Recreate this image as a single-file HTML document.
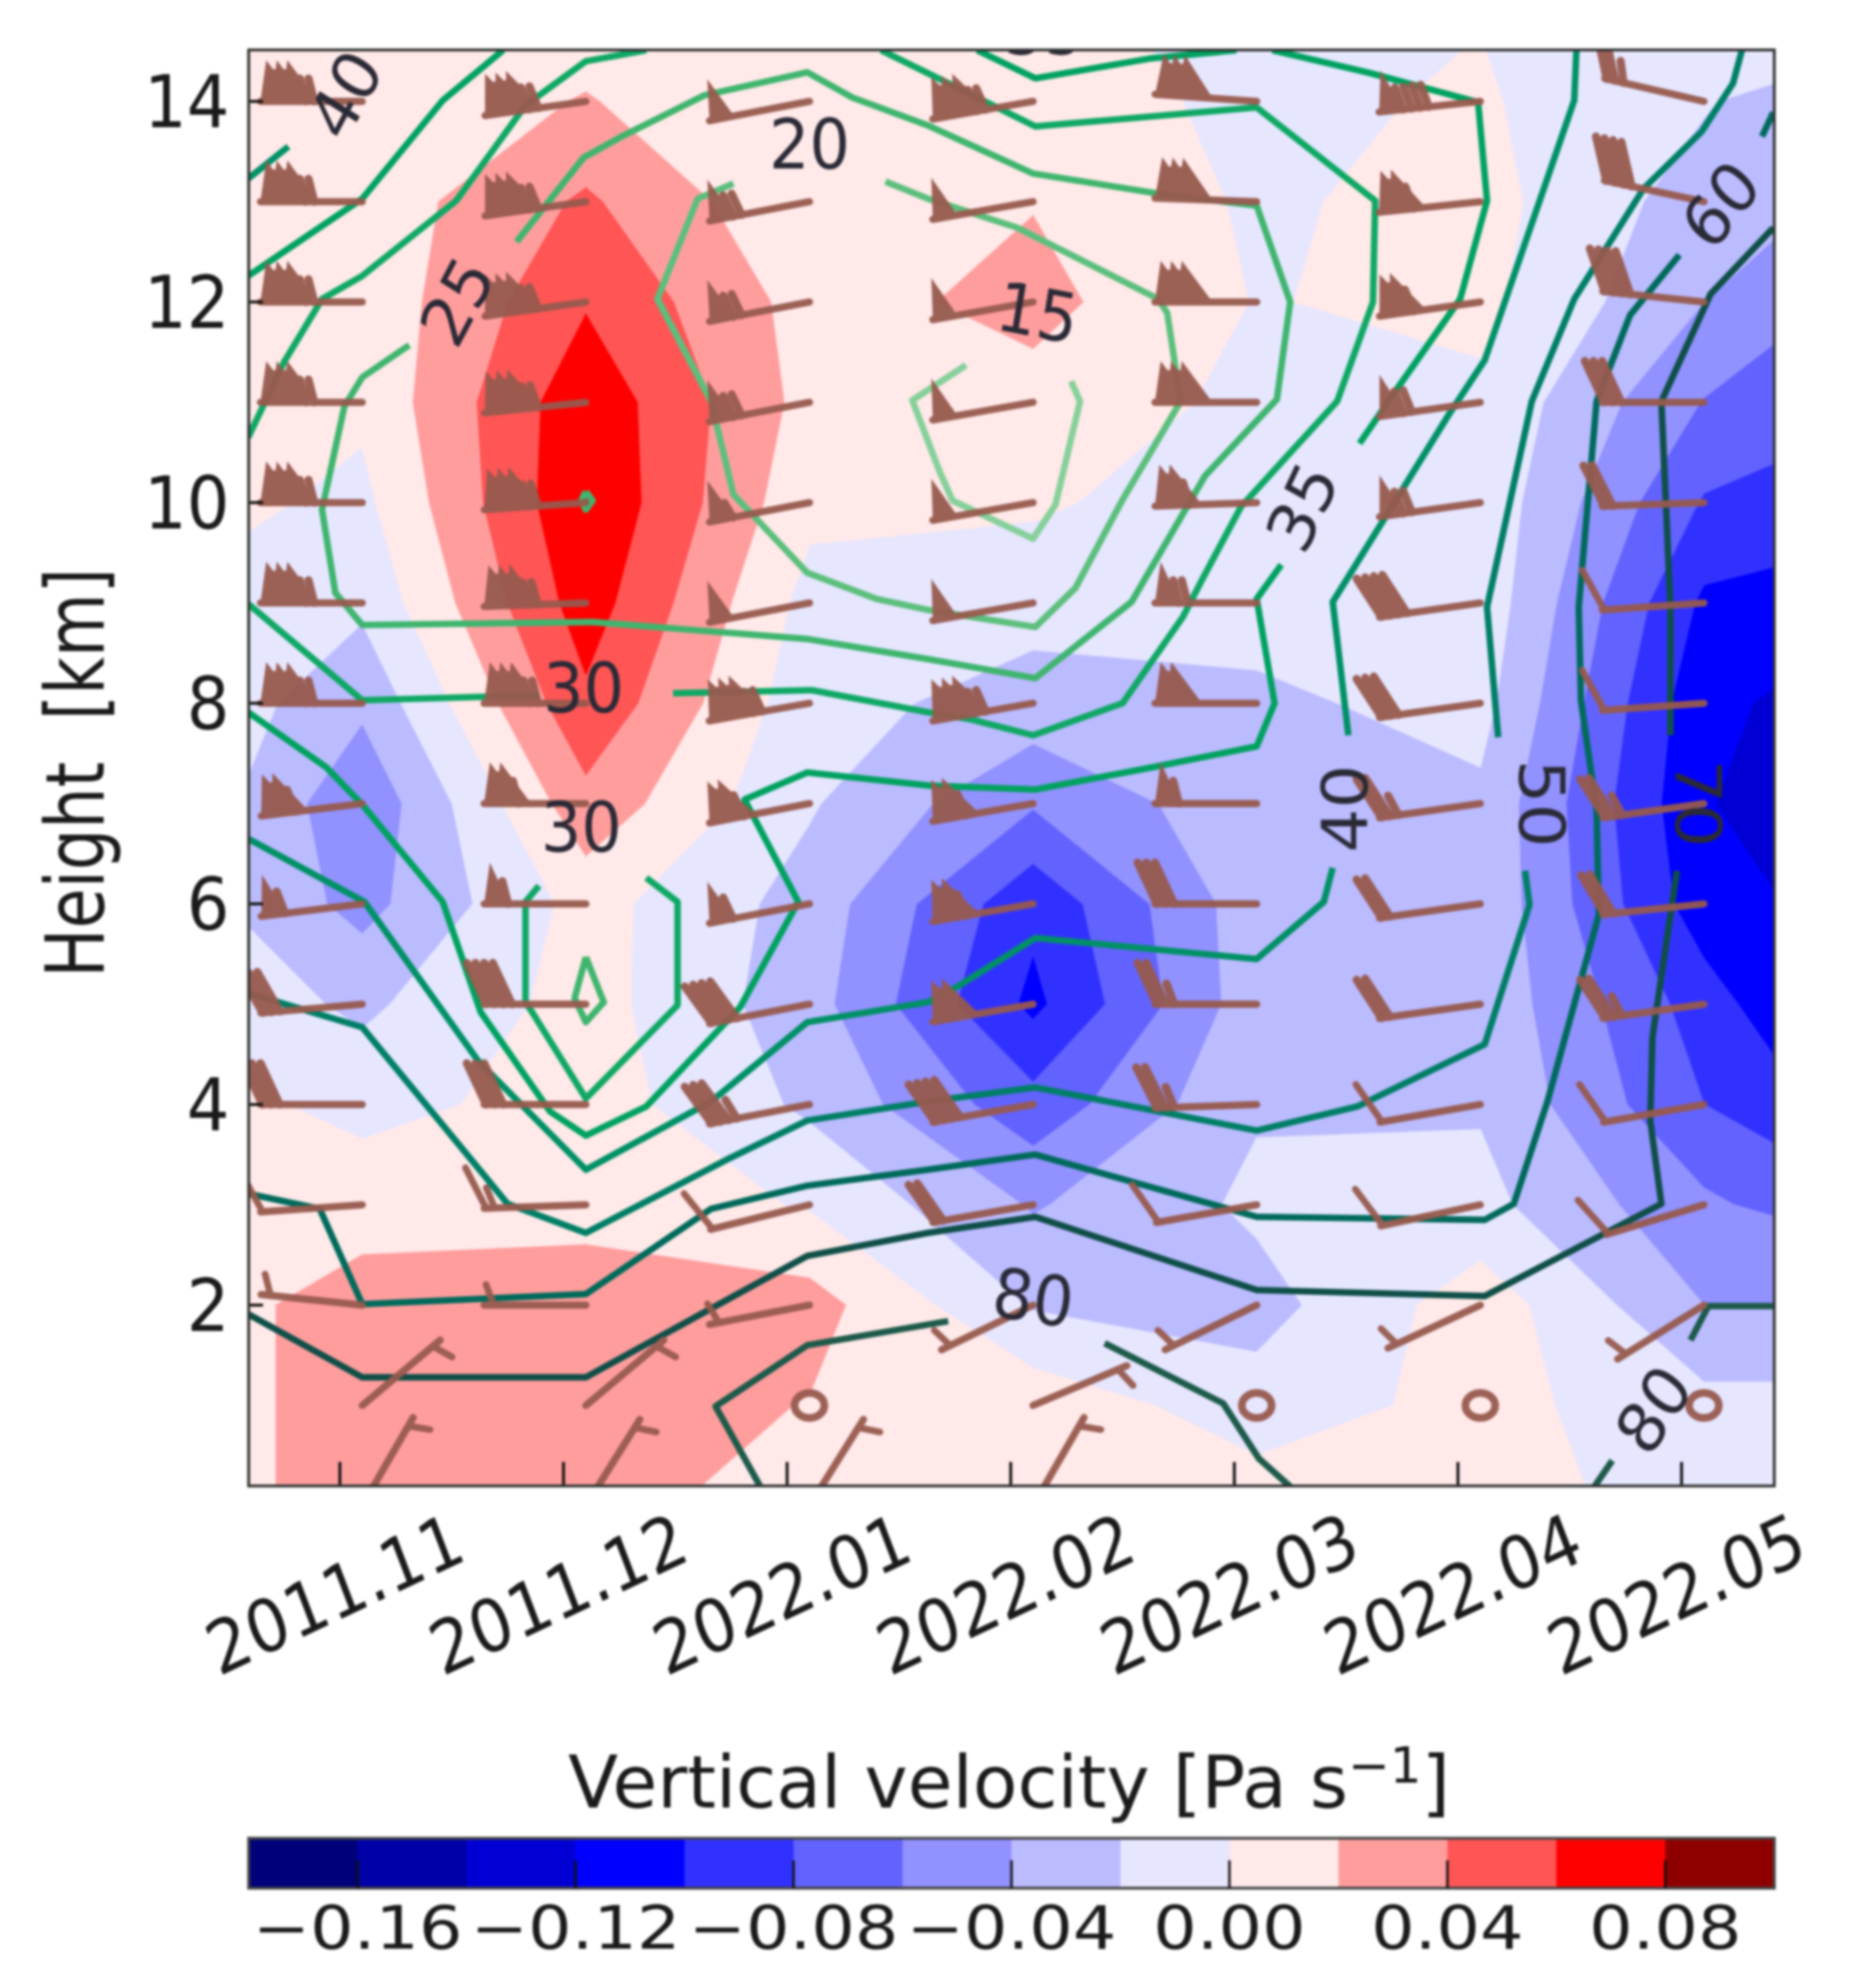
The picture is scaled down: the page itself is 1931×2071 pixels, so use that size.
<!DOCTYPE html>
<html lang="en">
<head>
<meta charset="utf-8">
<title>Vertical velocity time-height section</title>
<style>
html,body{margin:0;padding:0;background:#fff;}
#chart{display:block;width:1931px;height:2071px;filter:blur(1.2px);font-family:"DejaVu Sans","Liberation Sans",sans-serif;}
</style>
</head>
<body>
<svg id="chart" xmlns="http://www.w3.org/2000/svg" width="1931" height="2071" viewBox="0 0 1931 2071">
  <defs>
    <clipPath id="plot-clip"><rect x="259" y="52" width="1589" height="1496"></rect></clipPath>
  </defs>
  <rect x="0" y="0" width="1931" height="2071" fill="#ffffff"></rect>
  <g id="fills" clip-path="url(#plot-clip)"></g>
  <g id="lines" clip-path="url(#plot-clip)"></g>
  <g id="barbs" clip-path="url(#plot-clip)"></g>
  <g id="labels" clip-path="url(#plot-clip)"></g>
  <g id="xticks"></g>
  <g id="yticks"></g>
  <rect x="259" y="52" width="1589" height="1496" fill="none" stroke="#333" stroke-width="3"></rect>
  <text transform="translate(108,805) scale(1.25,1) rotate(-90)" text-anchor="middle" font-size="68" fill="#1a1a1a" xml:space="preserve">Height  [km]</text>
  <text x="1051" y="1883" text-anchor="middle" font-size="76" fill="#1a1a1a">Vertical velocity [Pa s<tspan dy="-26" font-size="52">−1</tspan><tspan dy="26">]</tspan></text>
  <g id="colorbar"></g>
</svg>
<script>
// ---------- Data: vertical velocity field (Pa/s) ----------
const gridMonths = [-0.9, 0.1, 1.1, 2.1, 3.1, 4.1, 5.1, 6.1, 7.1];
const gridHeights = [15, 14, 13, 12, 11, 10, 9, 8, 7, 6, 5, 4, 3, 2, 1, 0];
const velocityField = [
  [.004,.008,.01,.002,.002,-.003,-.001,-.012,-.005],
  [.004,.008,.021,.004,.008,-.004,.002,-.018,-.051],
  [.004,.008,.043,.002,.019,-.003,.007,-.03,-.05],
  [.004,.006,.058,.012,.026,-.001,.005,-.04,-.076],
  [.004,.004,.074,.013,.013,-.005,-.004,-.061,-.081],
  [.011,-.005,.078,.005,.003,-.012,-.006,-.082,-.092],
  [0,-.016,.07,-.007,-.013,-.012,-.007,-.104,-.124],
  [.006,-.036,.056,-.013,-.028,-.024,-.013,-.115,-.138],
  [.008,-.056,.0335,-.018,-.058,-.026,-.024,-.118,-.157],
  [-.003,-.047,.0075,-.028,-.095,-.028,-.024,-.112,-.135],
  [0,-.024,.008,-.032,-.105,-.028,-.025,-.09,-.156],
  [.016,-.008,.01,-.024,-.073,-.022,-.022,-.08,-.123],
  [.01,.015,.015,-.002,-.042,-.016,-.014,-.056,-.086],
  [.012,.025,.0275,.028,-.022,-.028,.011,-.04,-.04],
  [.004,.03,.032,.019,.013,-.011,.007,-.014,-.014],
  [.004,.03,.032,.003,.012,.011,.005,-.005,-.005]
];
const bandLevels = [-.18,-.16,-.14,-.12,-.10,-.08,-.06,-.04,-.02,0,.02,.04,.06,.08,.10];
const bandColors = ["#00007a","#0000a8","#0000d4","#0000ff","#3131ff","#6262ff","#9191ff","#bbbbff","#e6e6ff","#ffe9e9","#ff9d9d","#ff5555","#ff0000","#8e0000"];

// ---------- Data: contour lines as [month, km] vertices ----------
const contour15 = [[[2.80,11.37],[2.56,11.02],[2.68,10.32],[2.74,10.02],[3.10,9.64],[3.20,9.98],[3.31,11.01],[3.27,11.21]]];
const contour20 = [[[1.76,13.18],[1.60,13.03],[1.42,12.03],[1.66,11.01],[1.76,10.08],[2.09,9.30],[2.40,9.04],[2.63,8.93],[3.11,8.76],[3.29,9.15],[3.50,10.03],[3.76,11.01],[3.70,11.89],[3.66,12.03],[3.03,12.74],[2.63,13.03],[2.44,13.2]]];
const contour25 = [
  [[.79,12.6],[1.09,13.44],[1.26,13.65],[1.63,14.06],[2.09,14.29],[2.29,14.04],[2.63,13.76],[3.10,13.28],[3.66,13.08],[4.10,12.96],[4.25,12.0],[4.19,11.03],[3.87,10.27],[3.54,9.01],[3.11,8.25],[2.63,8.44],[2.09,8.64],[1.13,8.81],[.10,8.78],[-.02,9.1],[-.08,9.93],[.02,10.96],[.10,11.25],[.31,11.57]],
  [[1.10,10.11],[1.13,10.02],[1.10,9.93],[1.08,10.02],[1.10,10.11]],
  [[1.10,5.47],[1.18,5.02],[1.10,4.82],[1.05,5.06],[1.10,5.47]]
];
const contour30 = [
  [[-.41,10.65],[-.25,11.40],[-.08,12.03],[.10,12.26],[.52,13.01],[.83,13.96],[1.10,14.40],[1.37,14.51]],
  [[2.42,14.51],[2.63,14.28],[3.11,13.75],[4.10,13.94],[4.63,13.01],[4.62,12.0],[4.46,11.01],[4.03,9.96],[3.86,9.25],[3.77,8.86],[3.50,8.0],[3.10,7.68],[2.82,7.84],[2.63,7.91],[2.11,8.13],[1.49,8.10]],
  [[-.41,8.99],[.10,8.03],[.89,8.08]],
  [[.89,6.18],[.83,6.02],[.83,5.02],[.86,4.92],[1.10,4.06],[1.51,4.99],[1.51,6.02],[1.37,6.26]]
];
const contour35 = [
  [[-.41,12.26],[.10,13.03],[.46,14.01],[.73,14.51]],
  [[2.85,14.51],[3.11,14.23],[3.63,14.43],[4.01,14.51]],
  [[4.17,14.51],[4.61,14.28],[5.09,13.99],[5.13,13.01],[5.01,12.03],[4.72,11.11],[4.56,10.59]],
  [[-.41,7.91],[-.06,7.36],[.10,6.99],[.46,6.02],[.63,4.92],[.94,3.93],[1.10,3.69],[1.37,3.98],[1.79,4.97],[2.05,6.02],[1.81,7.04],[2.09,7.31],[2.63,7.18],[3.11,7.14],[3.63,7.36],[4.10,7.57],[4.18,8.0],[4.10,9.04],[4.21,9.38]]
];
const contour40 = [
  [[-.41,13.23],[-.23,13.55]],
  [[5.53,14.51],[5.52,14.01],[5.12,11.42],[4.96,10.88],[4.44,9.01],[4.51,7.68]],
  [[-.41,6.65],[.11,6.02],[.62,4.43],[1.10,3.35],[1.66,4.03],[2.09,4.82],[2.63,5.02],[2.75,5.16],[3.11,5.66],[4.10,5.45],[4.40,6.02],[4.44,6.36]]
];
const contour50 = [
  [[6.27,14.51],[6.23,14.18],[6.09,13.7],[5.83,13.13],[5.52,12.03],[5.33,11.01],[5.13,8.96],[5.18,7.66]],
  [[5.30,6.33],[5.32,5.99],[5.12,4.60],[4.55,3.98],[4.10,3.74],[3.11,4.17],[2.63,4.03],[2.09,3.84],[1.73,3.45],[1.10,2.72],[.75,3.01],[.10,4.77],[-.41,5.11]]
];
const contour60 = [
  [[6.41,13.89],[6.36,13.65]],
  [[5.99,12.47],[5.77,11.87],[5.62,11.01],[5.54,8.96],[5.55,8.03],[5.62,6.93],[5.63,5.89],[5.40,4.03],[5.25,3.01],[5.12,2.85],[4.10,2.88],[3.11,3.50],[2.63,3.35],[2.09,3.19],[1.66,2.96],[1.10,2.11],[.10,2.01],[-.09,2.96],[-.41,3.11]]
];
const contour70 = [
  [[6.41,12.74],[6.13,12.08],[5.91,11.01],[5.95,8.96],[5.95,7.68]],
  [[5.98,6.33],[5.95,5.89],[5.87,4.67],[5.86,3.84],[5.91,3.01],[5.12,2.09],[4.10,2.15],[3.11,2.88],[2.63,2.72],[2.09,2.49],[1.68,1.99],[1.10,1.28],[.10,1.28],[-.41,1.91]]
];
const contour80 = [
  [[1.88,.19],[1.68,.99],[2.09,1.60],[2.72,1.84]],
  [[3.42,1.62],[3.95,1.02],[4.11,.47],[4.25,.19]],
  [[5.61,.19],[5.69,.45]],
  [[6.04,1.65],[6.12,1.99],[6.41,1.99]]
];
const contourLevels = [15, 20, 25, 30, 35, 40, 50, 60, 70, 80];
const contourData = [contour15, contour20, contour25, contour30, contour35, contour40, contour50, contour60, contour70, contour80];
const contourColors = ["#86d09a","#5cbf7c","#3fb56e","#0fa864","#00a260","#009166","#007f66","#006a5b","#0f4f48","#1d5a4a"];

// Contour labels: text, month, km, angle
const labelTexts = ["40","20","25","15","30","30","35","40","50","60","70","80","80","35"];
const labelMonths = [0.03,2.1,0.53,3.12,1.09,1.08,4.31,4.50,5.37,6.18,6.07,3.10,5.88,3.15];
const labelHeights = [14.06,13.56,12.0,11.88,8.14,6.75,9.95,6.95,7.0,12.96,7.0,2.06,0.95,14.7];
const labelAngles = [-60,0,-60,10,0,0,-63,-90,90,-50,90,8,-55,0];

// Wind barbs: speed per column (rows km 14 → 0); 0 = calm
const barbHeights = [14,13,12,11,10,9,8,7,6,5,4,3,2,1,0];
const barbMonths = [0.1,1.1,2.1,3.1,4.1,5.1,6.1];
const barbSpeed = [
  [170,170,170,170,170,170,170,110,60,30,30,10,5,5,5],
  [170,170,170,170,170,170,170,110,60,40,30,15,5,5,5],
  [50,70,70,70,55,50,170,110,60,40,35,10,5,0,5],
  [170,50,50,50,50,50,170,110,110,100,40,20,5,5,5],
  [150,150,150,150,110,70,100,60,30,25,25,10,5,0,0],
  [90,110,110,70,70,40,30,25,20,20,10,10,5,0,0],
  [25,40,40,30,20,10,10,25,20,25,10,10,5,0,0]
];
const barbAngle = [
  [180,180,180,180,180,180,180,187,187,185,180,184,174,40,60],
  [188,188,188,186,184,182,180,180,180,180,180,182,180,40,58],
  [191,191,191,191,191,191,190,191,191,191,191,194,191,0,58],
  [190,190,190,190,190,190,190,190,190,190,190,190,206,23,60],
  [176,178,180,180,182,180,180,180,180,180,182,190,206,0,0],
  [186,186,188,188,188,188,188,188,188,188,190,192,205,0,0],
  [167,168,174,180,182,184,184,188,186,188,190,197,212,0,0]
];

// Axis tick labels
const monthTicks = [0,1,2,3,4,5,6];
const monthLabels = ["2011.11","2011.12","2022.01","2022.02","2022.03","2022.04","2022.05"];
const heightTicks = [14,12,10,8,6,4,2];
const colorbarTicks = [-.16,-.12,-.08,-.04,0,.04,.08];
const colorbarLabels = ["−0.16","−0.12","−0.08","−0.04","0.00","0.04","0.08"];

// ---------- Scales ----------
const NS = "http://www.w3.org/2000/svg";
function xScale(m){ return 354 + 232.9 * m; }
function yScale(km){ return 105.6 + (14 - km) * 104.5; }
function cbScale(v){ return 259 + (v - bandLevels[0]) / (bandLevels[bandLevels.length-1] - bandLevels[0]) * 1589; }
function svgEl(tag, parent){ const e = document.createElementNS(NS, tag); parent.appendChild(e); return e; }
function fmt(n){ return n.toFixed(1); }

// ---------- Filled contours: clip each grid cell to each band ----------
function clipValue(poly, limit, keepAbove){
  const out = [];
  for(let i=0;i<poly.length;i++){
    const a = poly[i], b = poly[(i+1)%poly.length];
    const ina = keepAbove ? a.v >= limit : a.v <= limit;
    const inb = keepAbove ? b.v >= limit : b.v <= limit;
    if(ina) out.push(a);
    if(ina !== inb){
      const t = (limit - a.v) / (b.v - a.v);
      out.push({m:a.m+(b.m-a.m)*t, k:a.k+(b.k-a.k)*t, v:limit});
    }
  }
  return out;
}
const fillGroup = document.getElementById("fills");
for(let b=0;b<bandColors.length;b++){
  let d = "";
  for(let r=0;r<gridHeights.length-1;r++){
    for(let c=0;c<gridMonths.length-1;c++){
      const quad = [
        {m:gridMonths[c],k:gridHeights[r],v:velocityField[r][c]},
        {m:gridMonths[c+1],k:gridHeights[r],v:velocityField[r][c+1]},
        {m:gridMonths[c+1],k:gridHeights[r+1],v:velocityField[r+1][c+1]},
        {m:gridMonths[c],k:gridHeights[r+1],v:velocityField[r+1][c]}
      ];
      let p = clipValue(quad, bandLevels[b], true);
      if(p.length) p = clipValue(p, bandLevels[b+1], false);
      if(p.length > 2){
        d += "M" + p.map(q => fmt(xScale(q.m)) + " " + fmt(yScale(q.k))).join("L") + "Z";
      }
    }
  }
  if(d){
    const path = svgEl("path", fillGroup);
    
    
    path.setAttribute("d", d);
    path.setAttribute("fill", bandColors[b]);
    path.setAttribute("stroke", bandColors[b]);
    path.setAttribute("stroke-width", "1.2");
  }
}

// ---------- Contour lines ----------
const lineGroup = document.getElementById("lines");
contourData.forEach((segments, i) => {
  segments.forEach(seg => {
    const line = svgEl("polyline", lineGroup);
    
    
    line.setAttribute("points", seg.map(p => fmt(xScale(p[0])) + "," + fmt(yScale(p[1]))).join(" "));
    line.setAttribute("fill", "none");
    line.setAttribute("stroke", contourColors[i]);
    line.setAttribute("stroke-width", "6.8");
    line.setAttribute("stroke-linejoin", "round");
  });
});

// ---------- Wind barbs ----------
const barbGroup = document.getElementById("barbs");
const BARB_COLOR = "#975a4e";
barbMonths.forEach((month, c) => {
  barbHeights.forEach((km, r) => {
    const speed = barbSpeed[c][r];
    const tipX = xScale(month), tipY = yScale(km);
    const g = svgEl("g", barbGroup);
    
    
    g.setAttribute("opacity", "0.95");
    if(speed === 0){
      const ring = svgEl("ellipse", g);
      ring.setAttribute("cx", tipX);
      ring.setAttribute("cy", tipY);
      ring.setAttribute("rx", 15.5);
      ring.setAttribute("ry", 13);
      ring.setAttribute("fill", "none");
      ring.setAttribute("stroke", BARB_COLOR);
      ring.setAttribute("stroke-width", 8);
      return;
    }
    const a = barbAngle[c][r] * Math.PI / 180;
    const tx = Math.cos(a), ty = -Math.sin(a);   // tip → tail
    const px = -ty, py = tx;                     // flag side
    const L = 106, H = 43;
    const tailX = tipX + tx * L, tailY = tipY + ty * L;
    const along = (s, h) => [tailX - tx*s + px*h, tailY - ty*s + py*h];
    const pts = list => list.map(q => fmt(q[0])+","+fmt(q[1])).join(" ");
    const staff = svgEl("line", g);
    staff.setAttribute("x1", fmt(tipX));
    staff.setAttribute("y1", fmt(tipY));
    staff.setAttribute("x2", fmt(tailX));
    staff.setAttribute("y2", fmt(tailY));
    staff.setAttribute("stroke", BARB_COLOR);
    staff.setAttribute("stroke-width", 7.5);
    staff.setAttribute("stroke-linecap", "round");
    const pennants = Math.floor(speed / 50);
    const rest = speed - pennants * 50;
    const fulls = Math.floor(rest / 10);
    const halves = rest - fulls * 10 >= 5 ? 1 : 0;
    const baseWidth = pennants > 1 ? 38 : 26;
    for(let i=0;i<pennants;i++){
      const s0 = i * 11;
      const tri = svgEl("polygon", g);
      tri.setAttribute("points", pts([along(s0,0), along(s0+baseWidth,0), along(s0+6,H)]));
      tri.setAttribute("fill", BARB_COLOR);
    }
    if(pennants > 1){
      const last = (pennants-1) * 11;
      const core = svgEl("polygon", g);
      core.setAttribute("points", pts([along(0,0), along(5,H*0.78), along(last+10,H*0.78), along(last+baseWidth,0)]));
      core.setAttribute("fill", BARB_COLOR);
    }
    const afterPennant = pennants > 0;
    let s = afterPennant ? 6 + 11*pennants + 8 : (fulls ? 2 : 10);
    for(let i=0;i<fulls+halves;i++){
      const isFull = i < fulls;
      const h = afterPennant ? H*0.55*(isFull?1:0.7) : (isFull ? H : H*0.5);
      const lean = afterPennant ? 6 : (isFull ? 20 : 8);
      const p1 = along(s,0), p2 = along(s-lean,h);
      const tick = svgEl("line", g);
      tick.setAttribute("x1", fmt(p1[0]));
      tick.setAttribute("y1", fmt(p1[1]));
      tick.setAttribute("x2", fmt(p2[0]));
      tick.setAttribute("y2", fmt(p2[1]));
      tick.setAttribute("stroke", BARB_COLOR);
      tick.setAttribute("stroke-width", speed >= 20 ? 8.5 : 7);
      tick.setAttribute("stroke-linecap", "round");
      s += 9;
    }
  });
});

// ---------- Contour labels ----------
const labelGroup = document.getElementById("labels");
labelTexts.forEach((txt, i) => {
  const t = svgEl("text", labelGroup);
  
  
  t.setAttribute("transform", "translate(" + fmt(xScale(labelMonths[i])) + "," + fmt(yScale(labelHeights[i])) + ") scale(0.92,1) rotate(" + labelAngles[i] + ")");
  t.setAttribute("text-anchor", "middle");
  t.setAttribute("dominant-baseline", "central");
  t.setAttribute("font-size", "72");
  t.setAttribute("fill", "#2a2a36");
  t.textContent = txt;
});

// ---------- X axis ----------
const xGroup = document.getElementById("xticks");
monthTicks.forEach((m, i) => {
  const tick = svgEl("line", xGroup);
  
  
  tick.setAttribute("x1", fmt(xScale(m)));
  tick.setAttribute("x2", fmt(xScale(m)));
  tick.setAttribute("y1", 1548);
  tick.setAttribute("y2", 1523);
  tick.setAttribute("stroke", "#111");
  tick.setAttribute("stroke-width", 3);
  const t = svgEl("text", xGroup);
  
  
  t.setAttribute("transform", "translate(" + fmt(xScale(m) - 5) + ",1662) scale(0.9,1) rotate(-23)");
  t.setAttribute("text-anchor", "middle");
  t.setAttribute("dominant-baseline", "central");
  t.setAttribute("font-size", "76");
  t.setAttribute("fill", "#1a1a1a");
  t.textContent = monthLabels[i];
});

// ---------- Y axis ----------
const yGroup = document.getElementById("yticks");
heightTicks.forEach(km => {
  const tick = svgEl("line", yGroup);
  
  
  tick.setAttribute("x1", 259);
  tick.setAttribute("x2", 274);
  tick.setAttribute("y1", fmt(yScale(km)));
  tick.setAttribute("y2", fmt(yScale(km)));
  tick.setAttribute("stroke", "#111");
  tick.setAttribute("stroke-width", 3);
  const t = svgEl("text", yGroup);
  
  
  t.setAttribute("transform", "translate(239," + fmt(yScale(km) + 27) + ") scale(0.92,1)");
  t.setAttribute("text-anchor", "end");
  t.setAttribute("font-size", "76");
  t.setAttribute("fill", "#1a1a1a");
  t.textContent = km;
});

// ---------- Colorbar ----------
const cb = document.getElementById("colorbar");
bandColors.forEach((col, i) => {
  const r = svgEl("rect", cb);
  
  
  r.setAttribute("x", fmt(cbScale(bandLevels[i])));
  r.setAttribute("y", 1915);
  r.setAttribute("width", fmt(cbScale(bandLevels[i+1]) - cbScale(bandLevels[i]) + 0.5));
  r.setAttribute("height", 52);
  r.setAttribute("fill", col);
});
const cbFrame = svgEl("rect", cb);


cbFrame.setAttribute("x", 259);
cbFrame.setAttribute("y", 1915);
cbFrame.setAttribute("width", 1589);
cbFrame.setAttribute("height", 52);
cbFrame.setAttribute("fill", "none");
cbFrame.setAttribute("stroke", "#444");
cbFrame.setAttribute("stroke-width", 3);
colorbarTicks.forEach((v, i) => {
  const tick = svgEl("line", cb);
  
  
  tick.setAttribute("x1", fmt(cbScale(v)));
  tick.setAttribute("x2", fmt(cbScale(v)));
  tick.setAttribute("y1", 1967);
  tick.setAttribute("y2", 1938);
  tick.setAttribute("stroke", "#111");
  tick.setAttribute("stroke-width", 2.5);
  const t = svgEl("text", cb);
  
  
  t.setAttribute("transform", "translate(" + fmt(cbScale(v)) + ",2030) scale(1.15,1)");
  t.setAttribute("text-anchor", "middle");
  t.setAttribute("font-size", "62");
  t.setAttribute("fill", "#1a1a1a");
  t.textContent = colorbarLabels[i];
});
</script>
</body>
</html>
